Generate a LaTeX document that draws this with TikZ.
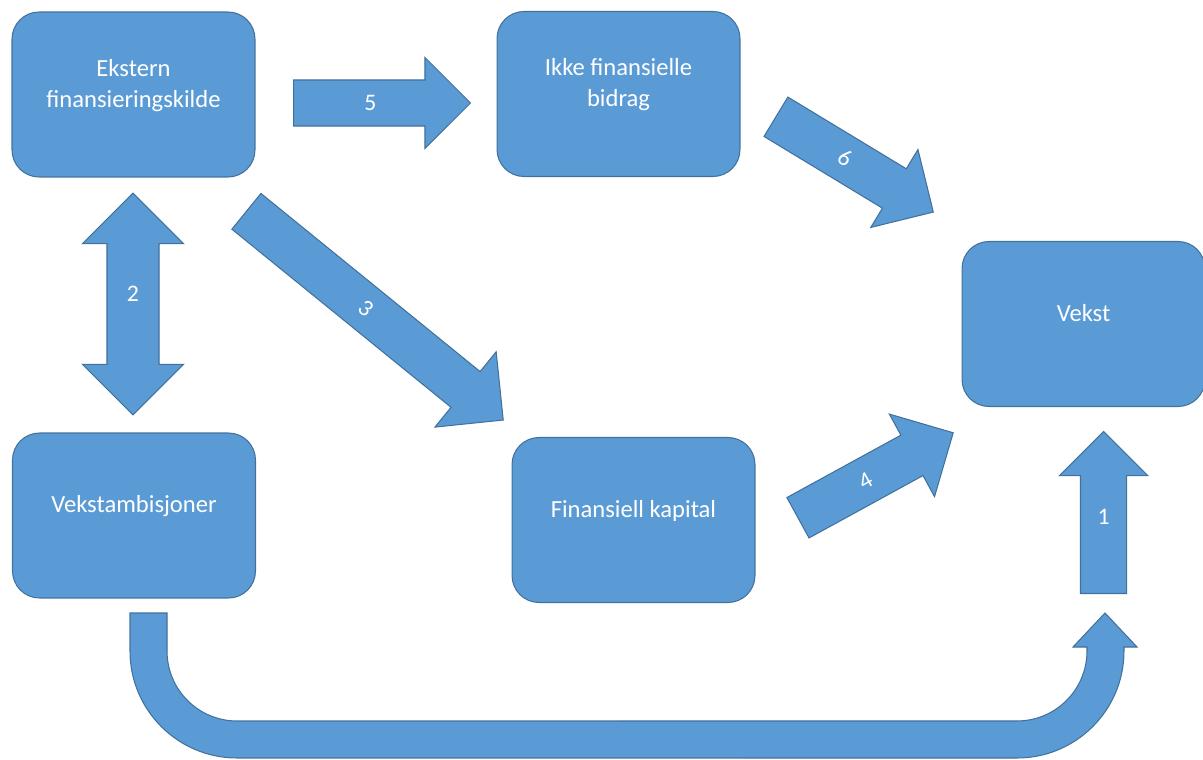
\documentclass[tikz,border=0pt]{standalone}
\usepackage{fontspec}
\setmainfont{Carlito}
\usepackage{xcolor}
\usepackage{tikz}
\usetikzlibrary{shapes.arrows}
\definecolor{boxfill}{HTML}{5B9BD5}
\definecolor{boxline}{HTML}{41719C}
\newcommand{\boxfont}{\fontsize{14pt}{17.6pt}\selectfont}
\newcommand{\numfont}{\fontsize{13.5pt}{16pt}\selectfont}
\newcommand{\lift}[1]{\raisebox{0.18cm}[\height][\depth]{\begin{tabular}{@{}c@{}}#1\end{tabular}}}
\newcommand{\upby}[2]{\raisebox{#1}[\height][\depth]{#2}}

\begin{document}
\begin{tikzpicture}[
  x=0.02cm, y=-0.02cm,
  box/.style={draw=boxline, fill=boxfill, rounded corners=0.54cm, line width=0.6pt,
              minimum width=4.86cm, minimum height=3.3cm, inner sep=0pt,
              text=white, font=\boxfont},
  blk/.style={single arrow, draw=boxline, fill=boxfill, line width=0.6pt,
              text=white, font=\numfont, anchor=tail,
              text width=0.3cm, align=center, text height=0.3cm, text depth=0cm,
              inner sep=0.3cm, single arrow head extend=0.45cm},
  dblk/.style={double arrow, draw=boxline, fill=boxfill, line width=0.6pt,
               text=white, font=\numfont,
               text width=0.3cm, align=center, text height=0.3cm, text depth=0cm,
               inner sep=0.36cm}
]
\useasboundingbox (0,0) rectangle (1203,760);

\node[box] (ekst) at (133.5,94.5) {\lift{Ekstern\\finansieringskilde}};
\node[box] (ikke) at (618.5,94) {\lift{Ikke finansielle\\bidrag}};
\node[box] (vekst) at (1083.5,324) {\lift{Vekst}};
\node[box] (amb) at (134,515.5) {\lift{Vekstambisjoner}};
\node[box] (kap) at (633.5,520) {\lift{Finansiell kapital}};

% block arrows
\node[blk, minimum height=3.54cm] (a5) at (293,103) {5};
\node[dblk, shape border rotate=90, minimum height=4.44cm,
      double arrow head extend=0.49cm] (a2) at (133,304) {\upby{0.2cm}{2}};
\node[blk, rotate=-39.1, minimum height=6.62cm,
      single arrow head extend=0.51cm] (a3) at (246,211) {3};
\node[blk, rotate=-31.2, minimum height=3.68cm] (a6) at (775.5,116.5) {6};
\node[blk, rotate=28.7, minimum height=3.54cm,
      single arrow head extend=0.48cm] (a4) at (797.5,518) {4};
\node[blk, shape border rotate=90, minimum height=3.24cm,
      single arrow head extend=0.42cm] (a1) at (1103.5,594) {\upby{0.14cm}{1}};

% bent arrow under the boxes
\draw[line width=0.6pt, draw=boxline, fill=boxfill]
  (130,613) -- (130,651) arc[start angle=180, end angle=270, radius=2.14cm]
  -- (1017,758) arc[start angle=270, end angle=360, radius=2.14cm]
  -- (1124,647) -- (1137,647) -- (1105,613) -- (1073,647) -- (1087,647) -- (1087,651)
  arc[start angle=0, end angle=-90, radius=1.4cm]
  -- (237,721) arc[start angle=270, end angle=180, radius=1.4cm]
  -- (167,613) -- cycle;
\end{tikzpicture}
\end{document}
